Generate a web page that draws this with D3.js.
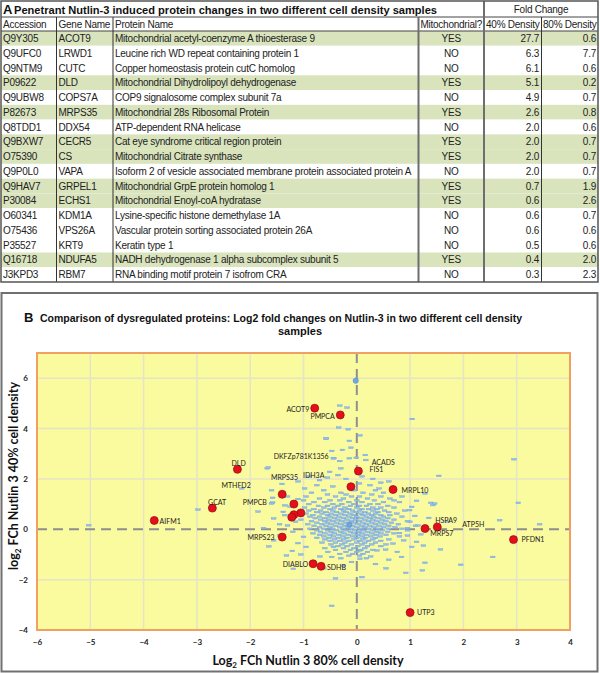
<!DOCTYPE html>
<html><head><meta charset="utf-8">
<script src="https://cdn.jsdelivr.net/npm/d3@7"></script>
<style>body{margin:0;background:#fff}svg{display:block}</style>
</head><body>
<script>
// ---------- Panel A data ----------
const accession = ["Q9Y305","Q9UFC0","Q9NTM9","P09622","Q9UBW8","P82673","Q8TDD1","Q9BXW7","O75390","Q9P0L0","Q9HAV7","P30084","O60341","O75436","P35527","Q16718","J3KPD3"];
const geneNames = ["ACOT9","LRWD1","CUTC","DLD","COPS7A","MRPS35","DDX54","CECR5","CS","VAPA","GRPEL1","ECHS1","KDM1A","VPS26A","KRT9","NDUFA5","RBM7"];
const proteinNames = ["Mitochondrial acetyl-coenzyme A thioesterase 9","Leucine rich WD repeat containing protein 1","Copper homeostasis protein cutC homolog","Mitochondrial Dihydrolipoyl dehydrogenase","COP9 signalosome complex subunit 7a","Mitochondrial 28s Ribosomal Protein","ATP-dependent RNA helicase","Cat eye syndrome critical region protein","Mitochondrial Citrate synthase","Isoform 2 of vesicle associated membrane protein associated protein A","Mitochondrial GrpE protein homolog 1","Mitochondrial Enoyl-coA hydratase","Lysine-specific  histone demethylase 1A","Vascular protein sorting associated protein 26A","Keratin type 1","NADH dehydrogenase 1 alpha subcomplex subunit 5","RNA binding motif protein 7 isofrom CRA"];
const mitochondrial = ["YES","NO","NO","YES","NO","YES","NO","YES","YES","NO","YES","YES","NO","NO","NO","YES","NO"];
const fold40 = [27.7,6.3,6.1,5.1,4.9,2.6,2.0,2.0,2.0,2.0,0.7,0.6,0.6,0.6,0.5,0.4,0.3];
const fold80 = [0.6,7.7,0.6,0.2,0.7,0.8,0.6,0.7,0.7,0.7,1.9,2.6,0.7,0.6,0.6,2.0,2.3];
const tableHeaders = ["Accession","Gene Name","Protein Name","Mitochondrial?","40% Density","80% Density"];

// ---------- Panel B data ----------
const xTicks = [-6,-5,-4,-3,-2,-1,0,1,2,3,4];
const yTicks = [-4,-2,0,2,4,6];
// highlighted proteins (red)
const redX = [-0.79,-0.31,0.03,-0.11,0.68,-1.40,-1.18,-1.05,-1.18,-1.22,-1.40,-0.82,-0.67,1.28,1.51,2.94,1.00,-3.80,-2.71,-2.24];
const redY = [4.81,4.54,2.31,1.69,1.58,1.39,1.00,0.65,0.58,0.48,-0.31,-1.37,-1.47,0.03,0.09,-0.41,-3.31,0.35,0.84,2.38];
// labels
const labelText = ["ACOT9","PMPCA","DKFZp781K1356","ACADS","FIS1","IDH3A","MRPS35","DLD","MTHFD2","GCAT","PMPCB","AIFM1","MRPS23","DIABLO","SDHB","MRPL10","HSPA9","ATP5H","MRPS7","PFDN1","UTP3"];
const labelX = [-1.32,-0.87,-1.56,0.28,0.24,-1.01,-1.61,-2.35,-2.54,-2.79,-2.14,-3.70,-2.05,-1.39,-0.56,0.84,1.47,1.98,1.38,3.09,1.13];
const labelY = [4.67,4.37,2.81,2.55,2.28,2.03,1.95,2.52,1.63,0.95,0.96,0.22,-0.44,-1.49,-1.61,1.46,0.24,0.11,-0.27,-0.52,-3.41];
// larger blue circles
const circleX = [-0.02,-0.14];
const circleY = [5.90,0.19];
// all other proteins (blue dashes), [log2 80%, log2 40%]
const bluePoints = [
[-0.32,4.91],[-0.18,4.83],[-0.34,4.04],[-0.16,3.97],[-0.57,3.60],[-0.14,3.51],[0.06,3.73],[-0.47,3.11],[-0.27,3.15],[-0.11,3.24],
[-0.43,2.82],[-0.32,2.71],[-0.14,2.82],[-0.01,2.84],[0.16,2.95],[0.17,2.75],[-1.68,2.42],[-0.51,2.28],[-0.30,2.42],[-1.66,2.46],
[-0.58,3.61],[-0.44,2.82],[-1.58,1.25],[-1.58,1.06],[-2.16,1.62],[1.04,4.38],[2.95,2.78],[1.54,2.12],[3.03,1.05],[1.28,1.42],
[1.12,1.13],[1.39,1.05],[1.46,1.02],[1.03,0.89],[2.68,0.36],[3.43,0.20],[2.55,-1.10],[1.95,-1.41],[1.28,-1.33],[1.23,-1.63],
[0.92,-1.73],[-0.47,-3.04],[1.57,-0.80],[0.60,-1.21],[0.84,-1.10],[0.26,-1.08],[0.06,-1.17],[0.38,-0.84],[0.54,-0.81],[0.76,-0.90],
[1.03,-0.70],[1.12,-0.50],[-0.44,-0.70],[-0.54,-0.90],[-0.47,-1.10],[-0.69,-1.08],[0.68,-0.57],[0.88,-0.44],[0.06,-0.84],[1.09,0.53],
[0.99,0.76],[1.43,0.96],[-5.03,0.16],[-2.98,0.78],[-1.65,-0.68],[-1.56,-0.44],[-1.32,-1.04],[-1.21,-0.86],[-1.19,-1.57],[-1.60,1.02],
[-1.38,0.69],[-1.35,0.56],[-1.56,0.43],
[-1.10,1.20],[-1.25,0.90],[-1.30,1.30],[-1.15,0.30],[-1.30,0.15],[-1.45,0.20],[-1.20,-0.10],[-1.00,-0.30],[-1.10,-0.55],[-0.95,-0.70],
[-1.60,1.55],[-1.40,1.80],[-1.10,1.90],[-0.90,2.10],[-0.70,1.95],[-0.55,2.05],[-0.35,2.15],[-0.20,2.00],[0.10,2.10],[0.30,2.00],
[0.45,1.85],[0.25,1.75],[-0.75,1.75],[0.60,1.90],[0.85,1.30],[0.70,1.15],[1.00,0.30],[1.15,0.15],[1.20,-0.20],[0.95,-0.25],[0.80,-0.15],
[-0.98,1.62],[-0.45,1.70],[0.05,1.82],[0.42,1.62],[-1.45,-0.25],[-1.35,0.95],[-0.85,-1.30],[-0.25,-1.45],[0.35,-1.38],[0.95,0.05],
[1.35,0.45],[1.25,-0.65],[-1.05,-1.00],[-0.62,-1.55],[0.55,-1.55],[0.10,-1.90],[-0.40,-1.95],[1.70,0.30],[-1.75,0.05],[-1.85,0.70],
[-0.62,1.55],[-0.05,1.55],[0.35,1.55],
[-0.85,1.45],[-0.30,1.45],[0.12,1.45],[0.50,1.45],
[-0.55,1.38],[-0.20,1.38],[0.28,1.38],
[-0.95,1.30],[-0.40,1.30],[-0.10,1.30],[0.05,1.30],[0.45,1.30],
[-0.70,1.22],[-0.25,1.22],[0.20,1.22],[0.62,1.22],
[-1.00,1.15],[-0.50,1.15],[-0.32,1.15],[0.00,1.15],[0.33,1.15],
[-0.80,1.08],[-0.60,1.08],[-0.15,1.08],[0.10,1.08],[0.50,1.08],[0.80,1.08],
[-0.90,1.00],[-0.45,1.00],[-0.28,1.00],[-0.05,1.00],[0.25,1.00],[0.40,1.00],
[-0.72,0.93],[-0.55,0.93],[-0.35,0.93],[-0.12,0.93],[0.05,0.93],[0.18,0.93],[0.58,0.93],
[-0.98,0.86],[-0.62,0.86],[-0.42,0.86],[-0.22,0.86],[0.00,0.86],[0.30,0.86],[0.45,0.86],[0.70,0.86],
[-0.80,0.80],[-0.50,0.80],[-0.30,0.80],[-0.15,0.80],[0.10,0.80],[0.22,0.80],[0.38,0.80],
[-0.90,0.74],[-0.68,0.74],[-0.45,0.74],[-0.25,0.74],[-0.08,0.74],[0.05,0.74],[0.30,0.74],[0.52,0.74],[0.90,0.74],
[-0.75,0.68],[-0.58,0.68],[-0.38,0.68],[-0.20,0.68],[-0.02,0.68],[0.15,0.68],[0.40,0.68],[0.60,0.68],
[-0.95,0.62],[-0.65,0.62],[-0.48,0.62],[-0.30,0.62],[-0.12,0.62],[0.08,0.62],[0.22,0.62],[0.35,0.62],[0.75,0.62],
[-0.82,0.56],[-0.55,0.56],[-0.40,0.56],[-0.22,0.56],[-0.05,0.56],[0.12,0.56],[0.28,0.56],[0.45,0.56],[0.62,0.56],
[-0.88,0.50],[-0.70,0.50],[-0.50,0.50],[-0.33,0.50],[-0.15,0.50],[0.00,0.50],[0.18,0.50],[0.32,0.50],[0.50,0.50],[0.85,0.50],
[-0.78,0.44],[-0.60,0.44],[-0.42,0.44],[-0.25,0.44],[-0.08,0.44],[0.08,0.44],[0.25,0.44],[0.40,0.44],[0.58,0.44],
[-1.05,0.38],[-0.68,0.38],[-0.52,0.38],[-0.35,0.38],[-0.18,0.38],[-0.02,0.38],[0.15,0.38],[0.30,0.38],[0.48,0.38],[0.70,0.38],
[-0.85,0.32],[-0.60,0.32],[-0.45,0.32],[-0.28,0.32],[-0.10,0.32],[0.05,0.32],[0.22,0.32],[0.38,0.32],[0.55,0.32],[0.95,0.32],
[-0.75,0.26],[-0.55,0.26],[-0.38,0.26],[-0.20,0.26],[-0.05,0.26],[0.12,0.26],[0.28,0.26],[0.45,0.26],[0.65,0.26],
[-0.92,0.20],[-0.65,0.20],[-0.48,0.20],[-0.30,0.20],[0.02,0.20],[0.18,0.20],[0.35,0.20],[0.52,0.20],[0.78,0.20],
[-0.80,0.14],[-0.58,0.14],[-0.40,0.14],[-0.22,0.14],[-0.08,0.14],[0.10,0.14],[0.25,0.14],[0.42,0.14],[0.60,0.14],[1.10,0.14],
[-0.70,0.08],[-0.50,0.08],[-0.32,0.08],[-0.16,0.08],[0.00,0.08],[0.15,0.08],[0.32,0.08],[0.50,0.08],[0.72,0.08],
[-0.88,0.02],[-0.62,0.02],[-0.45,0.02],[-0.26,0.02],[-0.10,0.02],[0.06,0.02],[0.22,0.02],[0.40,0.02],[0.60,0.02],[0.85,0.02],
[-0.75,-0.04],[-0.55,-0.04],[-0.38,-0.04],[-0.20,-0.04],[-0.03,-0.04],[0.12,-0.04],[0.30,-0.04],[0.48,-0.04],[0.95,-0.04],
[-0.68,-0.10],[-0.48,-0.10],[-0.30,-0.10],[-0.12,-0.10],[0.04,-0.10],[0.20,-0.10],[0.38,-0.10],[0.58,-0.10],
[-0.82,-0.16],[-0.60,-0.16],[-0.42,-0.16],[-0.24,-0.16],[-0.06,-0.16],[0.10,-0.16],[0.28,-0.16],[0.45,-0.16],[0.70,-0.16],
[-0.70,-0.22],[-0.50,-0.22],[-0.34,-0.22],[-0.16,-0.22],[0.02,-0.22],[0.18,-0.22],[0.36,-0.22],[0.55,-0.22],
[-0.62,-0.28],[-0.44,-0.28],[-0.26,-0.28],[-0.08,-0.28],[0.10,-0.28],[0.26,-0.28],[0.44,-0.28],[0.80,-0.28],
[-0.75,-0.34],[-0.52,-0.34],[-0.35,-0.34],[-0.18,-0.34],[0.00,-0.34],[0.16,-0.34],[0.35,-0.34],
[-0.60,-0.40],[-0.42,-0.40],[-0.25,-0.40],[-0.05,-0.40],[0.12,-0.40],[0.30,-0.40],[0.60,-0.40],
[-0.50,-0.46],[-0.32,-0.46],[-0.15,-0.46],[0.05,-0.46],[0.22,-0.46],[0.45,-0.46],
[-0.65,-0.53],[-0.40,-0.53],[-0.22,-0.53],[0.00,-0.53],[0.15,-0.53],[0.35,-0.53],
[-0.48,-0.60],[-0.28,-0.60],[-0.10,-0.60],[0.10,-0.60],[0.28,-0.60],[0.55,-0.60],
[-0.35,-0.67],[-0.18,-0.67],[0.02,-0.67],[0.20,-0.67],[0.45,-0.67],
[-0.60,-0.75],[-0.25,-0.75],[-0.05,-0.75],[0.15,-0.75],
[-0.40,-0.82],[-0.12,-0.82],[0.08,-0.82],[0.30,-0.82],
[-0.20,-0.90],[0.00,-0.90],[0.20,-0.90],
[-0.32,-0.98],[-0.08,-0.98],[0.12,-0.98],
[-0.15,-1.05],[0.05,-1.05],[-0.30,-1.15],[0.18,-1.15],[-0.10,-1.30]
];

// ---------- Drawing ----------
const W = 600, H = 673;
const svg = d3.select("body").append("svg").attr("width", W).attr("height", H);

// ===== Panel A : table =====
const tFont = "'Liberation Sans', Arial, sans-serif";
const colEdges = [1, 56.5, 113, 418.5, 484, 541.5, 598];
const tableTop = 1, titleBottom = 17, headerBottom = 31, tableBottom = 282;
const rowScale = d3.scaleBand().domain(d3.range(accession.length)).range([headerBottom, tableBottom]).padding(0);
const A = svg.append("g");

A.selectAll("rect.row").data(d3.range(accession.length)).join("rect")
  .attr("x", colEdges[0]).attr("width", colEdges[6]-colEdges[0])
  .attr("y", i => rowScale(i)).attr("height", rowScale.bandwidth())
  .attr("fill", i => mitochondrial[i] === "YES" ? "#d9e4bd" : "#ffffff");

const lineG = A.append("g");
function L(x1,y1,x2,y2,c,w){ lineG.append("line").attr("x1",x1).attr("y1",y1).attr("x2",x2).attr("y2",y2).attr("stroke",c).attr("stroke-width",w); }
L(colEdges[0], titleBottom, colEdges[6], titleBottom, "#444", 1);
L(colEdges[0], headerBottom, colEdges[6], headerBottom, "#444", 1);
L(colEdges[1], titleBottom, colEdges[1], tableBottom, "#333", 1);
L(colEdges[2], titleBottom, colEdges[2], tableBottom, "#333", 1);
L(colEdges[3], titleBottom, colEdges[3], tableBottom, "#6e6e6e", 2);
L(colEdges[4], tableTop, colEdges[4], tableBottom, "#6e6e6e", 2);
L(colEdges[5], titleBottom, colEdges[5], tableBottom, "#333", 1);
A.append("rect").attr("x", colEdges[0]).attr("y", tableTop).attr("width", colEdges[6]-colEdges[0]).attr("height", tableBottom-tableTop)
  .attr("fill","none").attr("stroke","#555").attr("stroke-width",1.5);

A.append("text").attr("x", 3).attr("y", 14).attr("font-family", tFont).attr("font-weight","bold").attr("font-size", 13).attr("fill","#111").text("A");
A.append("text").attr("x", 14).attr("y", 13.5).attr("font-family", tFont).attr("font-weight","bold").attr("font-size", 11)
  .attr("fill","#111").attr("textLength", 423).attr("lengthAdjust","spacingAndGlyphs")
  .text("Penetrant Nutlin-3 induced  protein changes in two different cell density samples");
A.append("text").attr("x", (colEdges[4]+colEdges[6])/2).attr("y", 13).attr("text-anchor","middle")
  .attr("font-family", tFont).attr("font-size", 10).attr("letter-spacing", -0.25).attr("fill","#222").text("Fold Change");

const hdrX = [3, 58.5, 115, (colEdges[3]+colEdges[4])/2, (colEdges[4]+colEdges[5])/2, (colEdges[5]+colEdges[6])/2];
const hdrAnchor = ["start","start","start","middle","middle","middle"];
A.selectAll("text.hdr").data(tableHeaders).join("text")
  .attr("x", (d,i) => hdrX[i]).attr("y", 27.5).attr("text-anchor", (d,i) => hdrAnchor[i])
  .attr("font-family", tFont).attr("font-size", 10).attr("letter-spacing", -0.25).attr("fill","#222").text(d => d);

const fmt = d3.format(".1f");
const rowsG = A.selectAll("g.r").data(d3.range(accession.length)).join("g")
  .attr("transform", i => `translate(0,${rowScale(i) + rowScale.bandwidth()/2 + 3.6})`)
  .attr("font-family", tFont).attr("font-size", 10).attr("letter-spacing", -0.25).attr("fill","#222");
rowsG.append("text").attr("x", 3).text(i => accession[i]);
rowsG.append("text").attr("x", 58.5).text(i => geneNames[i]);
rowsG.append("text").attr("x", 115).text(i => proteinNames[i]);
rowsG.append("text").attr("x", (colEdges[3]+colEdges[4])/2).attr("text-anchor","middle").text(i => mitochondrial[i]);
rowsG.append("text").attr("x", colEdges[5]-2.5).attr("text-anchor","end").text(i => fmt(fold40[i]));
rowsG.append("text").attr("x", colEdges[6]-2).attr("text-anchor","end").text(i => fmt(fold80[i]));

// ===== Panel B : scatter =====
const pFont = "Lato, 'Open Sans', sans-serif";
const B = svg.append("g");
B.append("rect").attr("x", 1.5).attr("y", 293).attr("width", 596).attr("height", 378.5)
  .attr("fill","#fff").attr("stroke","#707070").attr("stroke-width",2);
B.append("text").attr("x", 24).attr("y", 322).attr("font-family", tFont).attr("font-weight","bold").attr("font-size", 13).attr("fill","#111").text("B");
B.append("text").attr("x", 40).attr("y", 321.5).attr("font-family", tFont).attr("font-weight","bold").attr("font-size", 11)
  .attr("fill","#111").attr("textLength", 482).attr("lengthAdjust","spacingAndGlyphs")
  .text("Comparison of dysregulated proteins: Log2 fold changes on Nutlin-3 in two different cell density");
B.append("text").attr("x", 300).attr("y", 335).attr("text-anchor","middle").attr("font-family", tFont).attr("font-weight","bold").attr("font-size", 11)
  .attr("fill","#111").text("samples");

const x = d3.scaleLinear().domain([-6, 4]).range([37, 570]);
const y = d3.scaleLinear().domain([-4, 7]).range([630, 353]);

B.append("rect").attr("x", x(-6)).attr("y", y(7)).attr("width", x(4)-x(-6)).attr("height", y(-4)-y(7)).attr("fill","#fafa9f");
B.append("g").selectAll("line").data(xTicks.filter(t => t > -6 && t < 4 && t !== 0)).join("line")
  .attr("x1", d => x(d)).attr("x2", d => x(d)).attr("y1", y(7)).attr("y2", y(-4))
  .attr("stroke","#e4e4c6").attr("stroke-width",1.5);
B.append("g").selectAll("line").data(yTicks.filter(t => t > -4 && t !== 0)).join("line")
  .attr("y1", d => y(d)).attr("y2", d => y(d)).attr("x1", x(-6)).attr("x2", x(4))
  .attr("stroke","#e4e4c6").attr("stroke-width",1.5);
B.append("line").attr("x1", x(-6)).attr("x2", x(4)).attr("y1", y(0)).attr("y2", y(0))
  .attr("stroke","#8f8f8f").attr("stroke-width",2).attr("stroke-dasharray","10,6");
B.append("line").attr("x1", x(0)).attr("x2", x(0)).attr("y1", y(7)).attr("y2", y(-4))
  .attr("stroke","#8f8f8f").attr("stroke-width",2).attr("stroke-dasharray","10,6");

B.append("g").selectAll("rect").data(bluePoints).join("rect")
  .attr("x", d => x(d[0]) - 2.4).attr("y", d => y(d[1]) - 0.85).attr("width", 4.8).attr("height", 1.7)
  .attr("fill","#92bff0").attr("stroke","#6d9fd6").attr("stroke-width",0.35);
B.append("g").selectAll("circle").data(d3.range(circleX.length)).join("circle")
  .attr("cx", i => x(circleX[i])).attr("cy", i => y(circleY[i])).attr("r", 2.7)
  .attr("fill","#6fa6e0").attr("stroke","#5a90cc").attr("stroke-width",0.5);
B.append("g").selectAll("circle").data(d3.range(redX.length)).join("circle")
  .attr("cx", i => x(redX[i])).attr("cy", i => y(redY[i])).attr("r", 4)
  .attr("fill","#e3101c").attr("stroke","#9a0a10").attr("stroke-width",0.7);
B.append("g").selectAll("text").data(labelText).join("text")
  .attr("x", (d,i) => x(labelX[i])).attr("y", (d,i) => y(labelY[i]))
  .attr("font-family", pFont).attr("font-size", 7).attr("fill","#222").text(d => d);

B.append("rect").attr("x", x(-6)).attr("y", y(7)).attr("width", x(4)-x(-6)).attr("height", y(-4)-y(7))
  .attr("fill","none").attr("stroke","#f0a060").attr("stroke-width",2);

const xAxis = d3.axisBottom(x).tickValues(xTicks).tickSize(0).tickPadding(9);
const gx = B.append("g").attr("transform", `translate(0,${y(-4)})`).call(xAxis);
gx.select(".domain").remove();
gx.selectAll("text").attr("font-family", pFont).attr("font-weight","bold").attr("font-size", 8).attr("fill","#222");
const yAxis = d3.axisLeft(y).tickValues(yTicks).tickSize(0).tickPadding(9);
const gy = B.append("g").attr("transform", `translate(${x(-6)},0)`).call(yAxis);
gy.select(".domain").remove();
gy.selectAll("text").attr("font-family", pFont).attr("font-weight","bold").attr("font-size", 8).attr("fill","#222");

const xt = B.append("text").attr("x", 308).attr("y", 665).attr("text-anchor","middle")
  .attr("font-family", pFont).attr("font-weight","bold").attr("font-size", 12.5).attr("fill","#111");
xt.append("tspan").text("Log");
xt.append("tspan").attr("font-size", 8).attr("dy", 3).text("2");
xt.append("tspan").attr("dy", -3).text(" FCh Nutlin 3 80% cell density");
const yt = B.append("text").attr("transform", "translate(18,476) rotate(-90)").attr("text-anchor","middle")
  .attr("font-family", pFont).attr("font-weight","bold").attr("font-size", 12.5).attr("fill","#111");
yt.append("tspan").text("log");
yt.append("tspan").attr("font-size", 8).attr("dy", 3).text("2");
yt.append("tspan").attr("dy", -3).text(" FCh Nutlin 3 40% cell density");
</script>
</body></html>
